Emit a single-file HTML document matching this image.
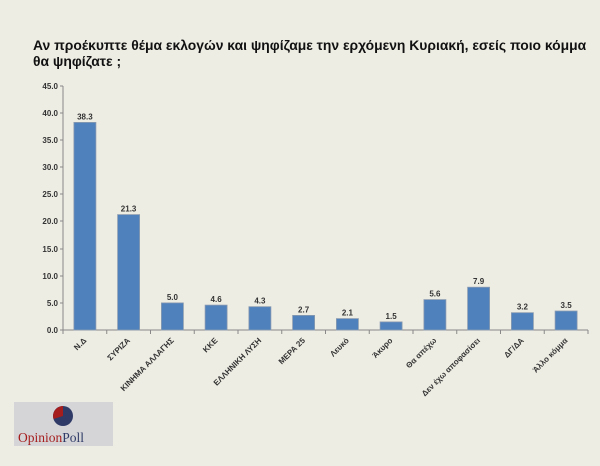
<!DOCTYPE html>
<html><head><meta charset="utf-8"><style>
html,body{margin:0;padding:0;background:#eeede4;}
svg{display:block;}
</style></head><body>
<svg width="600" height="466" xmlns="http://www.w3.org/2000/svg" font-family="Liberation Sans, DejaVu Sans, sans-serif">
<rect width="600" height="466" fill="#eeede4"/>
<text x="33" y="50" font-size="13.9" font-weight="bold" fill="#111">Αν προέκυπτε θέμα εκλογών και ψηφίζαμε την ερχόμενη Κυριακή, εσείς ποιο κόμμα</text>
<text x="33" y="66" font-size="13.9" font-weight="bold" fill="#111">θα ψηφίζατε ;</text>
<g font-size="8" font-weight="bold" fill="#333" text-anchor="end">
<text x="58" y="89">45.0</text><text x="58" y="116">40.0</text><text x="58" y="143">35.0</text>
<text x="58" y="170">30.0</text><text x="58" y="197">25.0</text><text x="58" y="224">20.0</text>
<text x="58" y="252">15.0</text><text x="58" y="279">10.0</text><text x="58" y="306">5.0</text>
<text x="58" y="333">0.0</text>
</g>
<g stroke="#888" stroke-width="1">
<line x1="63" y1="86" x2="63" y2="330"/>
<line x1="63" y1="330" x2="588" y2="330"/>
<line x1="60" y1="86" x2="63" y2="86"/><line x1="60" y1="113" x2="63" y2="113"/><line x1="60" y1="140" x2="63" y2="140"/><line x1="60" y1="167" x2="63" y2="167"/><line x1="60" y1="194" x2="63" y2="194"/><line x1="60" y1="221" x2="63" y2="221"/><line x1="60" y1="249" x2="63" y2="249"/><line x1="60" y1="276" x2="63" y2="276"/><line x1="60" y1="303" x2="63" y2="303"/><line x1="60" y1="330" x2="63" y2="330"/>
<line x1="63" y1="330" x2="63" y2="334"/><line x1="106.75" y1="330" x2="106.75" y2="334"/><line x1="150.5" y1="330" x2="150.5" y2="334"/><line x1="194.25" y1="330" x2="194.25" y2="334"/><line x1="238" y1="330" x2="238" y2="334"/><line x1="281.75" y1="330" x2="281.75" y2="334"/><line x1="325.5" y1="330" x2="325.5" y2="334"/><line x1="369.25" y1="330" x2="369.25" y2="334"/><line x1="413" y1="330" x2="413" y2="334"/><line x1="456.75" y1="330" x2="456.75" y2="334"/><line x1="500.5" y1="330" x2="500.5" y2="334"/><line x1="544.25" y1="330" x2="544.25" y2="334"/><line x1="588" y1="330" x2="588" y2="334"/>
</g>
<g fill="#4f81bd" stroke="#8a9bb0" stroke-width="0.8">
<rect x="73.9" y="122.4" width="22" height="207.6"/>
<rect x="117.6" y="214.6" width="22" height="115.4"/>
<rect x="161.4" y="302.9" width="22" height="27.1"/>
<rect x="205.1" y="305.1" width="22" height="24.9"/>
<rect x="248.9" y="306.7" width="22" height="23.3"/>
<rect x="292.6" y="315.4" width="22" height="14.6"/>
<rect x="336.4" y="318.6" width="22" height="11.4"/>
<rect x="380.1" y="321.9" width="22" height="8.1"/>
<rect x="423.9" y="299.6" width="22" height="30.4"/>
<rect x="467.6" y="287.2" width="22" height="42.8"/>
<rect x="511.4" y="312.7" width="22" height="17.3"/>
<rect x="555.1" y="311.0" width="22" height="19.0"/>
</g>
<g font-size="8" font-weight="bold" fill="#333" text-anchor="middle">
<text x="84.9" y="119.4">38.3</text>
<text x="128.6" y="211.6">21.3</text>
<text x="172.4" y="299.9">5.0</text>
<text x="216.1" y="302.1">4.6</text>
<text x="259.9" y="303.7">4.3</text>
<text x="303.6" y="312.4">2.7</text>
<text x="347.4" y="315.6">2.1</text>
<text x="391.1" y="318.9">1.5</text>
<text x="434.9" y="296.6">5.6</text>
<text x="478.6" y="284.2">7.9</text>
<text x="522.4" y="309.7">3.2</text>
<text x="566.1" y="308.0">3.5</text>
</g>
<g font-size="8" font-weight="bold" fill="#333" text-anchor="end">
<text transform="translate(86.9,341) rotate(-45)">Ν.Δ</text>
<text transform="translate(130.6,341) rotate(-45)">ΣΥΡΙΖΑ</text>
<text transform="translate(174.4,341) rotate(-45)">ΚΙΝΗΜΑ ΑΛΛΑΓΗΣ</text>
<text transform="translate(218.1,341) rotate(-45)">ΚΚΕ</text>
<text transform="translate(261.9,341) rotate(-45)">ΕΛΛΗΝΙΚΗ ΛΥΣΗ</text>
<text transform="translate(305.6,341) rotate(-45)">ΜΕΡΑ 25</text>
<text transform="translate(349.4,341) rotate(-45)">Λευκό</text>
<text transform="translate(393.1,341) rotate(-45)">Άκυρο</text>
<text transform="translate(436.9,341) rotate(-45)">Θα απέχω</text>
<text transform="translate(480.6,341) rotate(-45)">Δεν έχω αποφασίσει</text>
<text transform="translate(524.4,341) rotate(-45)">ΔΓ/ΔΑ</text>
<text transform="translate(568.1,341) rotate(-45)">Άλλο κόμμα</text>
</g>
<g transform="translate(14,402)">
<rect width="99" height="44" fill="#d5d5d8"/>
<circle cx="49" cy="14" r="10" fill="#2f3a66"/>
<path d="M49 14 L49 4 A10 10 0 0 0 39.5 17 Z" fill="#a51d1d"/>
<text x="4" y="40" font-family="Liberation Serif, serif" font-size="13.5" fill="#a51d1d">Opinion<tspan fill="#2f3a66">Poll</tspan></text>
</g>
</svg>
</body></html>
